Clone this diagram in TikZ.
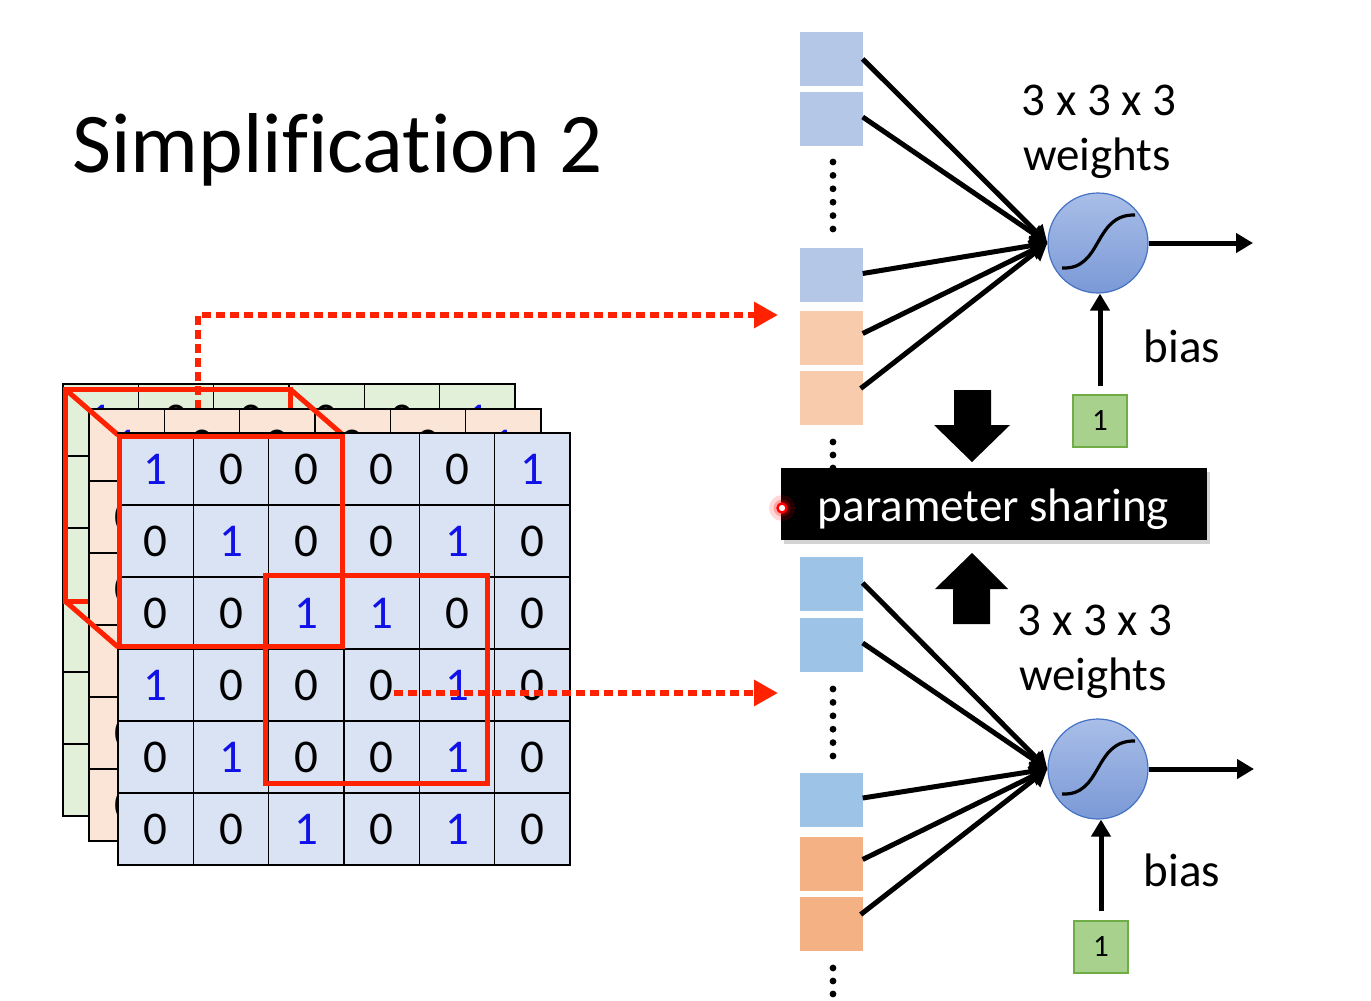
\documentclass[tikz,border=0pt]{standalone}
\usepackage{fontspec}
\setmainfont{Carlito}[Ligatures=NoCommon]
\usetikzlibrary{arrows.meta,calc,shadows}
\definecolor{cellblue}{HTML}{DAE3F3}
\definecolor{cellorange}{HTML}{FBE5D6}
\definecolor{cellgreen}{HTML}{E2F0D9}
\definecolor{redline}{HTML}{FF2200}
\definecolor{sqblueA}{HTML}{B4C7E7}
\definecolor{sqorangeA}{HTML}{F8CBAD}
\definecolor{sqblueB}{HTML}{9DC3E6}
\definecolor{sqorangeB}{HTML}{F4B183}
\definecolor{biasgreen}{HTML}{A9D18E}
\definecolor{biasborder}{HTML}{70AD47}
\definecolor{neuronborder}{HTML}{4472C4}
\definecolor{neurontop}{HTML}{A9BEE8}
\definecolor{neuronbot}{HTML}{7A99D6}
\definecolor{digitblue}{HTML}{1010E8}
\newcommand\mygridcells[4]{%
  \foreach \rowvals [count=\r] in {{1,0,0,0,0,1},{0,1,0,0,1,0},{0,0,1,1,0,0},{1,0,0,0,1,0},{0,1,0,0,1,0},{0,0,1,0,1,0}}{%
    \foreach \v [count=\c] in \rowvals {%
      \node[cell,fill=#3] (#4-\r-\c) at ({#1+(\c-0.5)*75.33},{#2+(\r-0.5)*72}) {\ifnum\v=1 \textcolor{digitblue}{1}\else 0\fi};
    }%
  }%
}
\begin{document}
\begin{tikzpicture}[x=1pt,y=-1pt,
  cell/.style={draw=black,line width=1.5pt,minimum width=75.33pt,minimum height=72pt,inner sep=0pt,font=\fontsize{47}{47}\selectfont},
  redbox/.style={draw=redline,line width=5pt},
  reddots/.style={draw=redline,line width=6pt,dash pattern=on 9pt off 5pt,-{Triangle[length=24pt,width=25pt]}},
  sq/.style={minimum width=63pt,minimum height=54pt,inner sep=0pt},
  conn/.style={draw=black,line width=5pt,-{Triangle[length=17pt,width=19pt]}},
  neuron/.style={circle,draw=neuronborder,line width=1.2pt,minimum size=100pt,inner sep=0pt,top color=neurontop,bottom color=neuronbot},
  biasbox/.style={draw=biasborder,line width=1.2pt,fill=biasgreen,minimum width=54pt,minimum height=52pt,inner sep=0pt,font=\fontsize{31}{31}\selectfont},
  lbl/.style={anchor=base,inner sep=0pt,font=\fontsize{47}{47}\selectfont},
  sig/.style={draw=black,line width=3.2pt},
  dotmark/.style={fill=black},
]
\useasboundingbox (0,0) rectangle (1371,1001);
% title
\node[anchor=base west,inner sep=0pt,font=\fontsize{85}{85}\selectfont] (title) at (72,172) {Simplification 2};

% back (green) grid
\mygridcells{63}{384}{cellgreen}{g}
% back face of the red cube
\draw[redbox] (65,389) rectangle (290,601);
% top dotted arrow
\coordinate (dstartA) at (198,409);
\coordinate (dendA) at (778,315);
\draw[reddots] (dstartA) |- (dendA);
% middle (orange) grid
\mygridcells{89}{409}{cellorange}{o}
% diagonals of the cube
\draw[redbox] (65,389) -- (118,435);
\draw[redbox] (290,389) -- (343,435);
\draw[redbox] (65,601) -- (118,647);
% front grid
\mygridcells{118}{433}{cellblue}{f}
% front face and second window
\draw[redbox] (119,436) rectangle (342,646);
\draw[redbox] (265,575) rectangle (487,783);
% bottom dotted arrow
\coordinate (dstartB) at (394,693);
\coordinate (dendB) at (778,693);
\draw[reddots] (dstartB) -- (dendB);

% ---------- top neuron ----------
\node[sq,fill=sqblueA] (t1) at (831,59) {};
\node[sq,fill=sqblueA] (t2) at (831,119) {};
\node[sq,fill=sqblueA] (t3) at (831,274.5) {};
\node[sq,fill=sqorangeA] (t4) at (831,337.5) {};
\node[sq,fill=sqorangeA] (t5) at (831,397.5) {};
\foreach \yy in {162,175.4,188.8,202.2,215.6,229} {\fill[dotmark] (833,\yy) circle (3.4);}
\foreach \yy in {442,455,468} {\fill[dotmark] (833,\yy) circle (3.4);}
\node[neuron] (n1) at (1098,243) {};
\draw[sig] ($(n1)+(-36,25)$) .. controls ($(n1)+(5,27)$) and ($(n1)+(-5,-29)$) .. ($(n1)+(37,-28)$);
\draw[conn] (t1.east) -- (n1.west);
\draw[conn] ($(t2.east)+(0,-2)$) -- (n1.west);
\draw[conn] ($(t3.east)+(0,-1)$) -- (n1.west);
\draw[conn] ($(t4.east)+(0,-4)$) -- (n1.west);
\draw[conn] ($(t5.east)+(-2,-9)$) -- (n1.west);
\coordinate (out1) at (1253,243);
\draw[conn] (n1.east) -- (out1);
\node[biasbox] (b1box) at (1100,421) {1};
\draw[conn,shorten <=8pt] (b1box.north) -- (b1box.north |- n1.south);
\node[lbl] (w1a) at (1099,115) {3 x 3 x 3};
\node[lbl] (w1b) at (1097,170) {weights};
\node[lbl] (bias1) at (1182,362) {bias};

% ---------- block arrows ----------
\fill[black] (954,390) -- (991,390) -- (991,425) -- (1010,425) -- (972,462) -- (934,425) -- (954,425) -- cycle;
\fill[black] (953,624) -- (990,624) -- (990,589) -- (1008,589) -- (972,553) -- (935,589) -- (953,589) -- cycle;

% ---------- parameter sharing ----------
\node[fill=black,minimum width=426pt,minimum height=72pt,inner sep=0pt,
      drop shadow={shadow xshift=3pt,shadow yshift=-4pt,opacity=0.35}] (ps) at (994,504) {};
\node[lbl,text=white] (pstext) at (993.5,521) {parameter sharing};
\fill[red,opacity=0.15] (782,508) circle (13);
\fill[red,opacity=0.25] (782,508) circle (8.5);
\node[circle,draw=red,line width=2.4pt,fill=white,minimum size=9pt,inner sep=0pt] (laser) at (782,508) {};

% ---------- bottom neuron ----------
\node[sq,fill=sqblueB] (s1) at (831,584) {};
\node[sq,fill=sqblueB] (s2) at (831,645) {};
\node[sq,fill=sqblueB] (s3) at (831,800) {};
\node[sq,fill=sqorangeB] (s4) at (831,863.5) {};
\node[sq,fill=sqorangeB] (s5) at (831,923.5) {};
\foreach \yy in {689,702.4,715.8,729.2,742.6,756} {\fill[dotmark] (833,\yy) circle (3.4);}
\foreach \yy in {968,981,994} {\fill[dotmark] (833,\yy) circle (3.4);}
\node[neuron] (n2) at (1098,769) {};
\draw[sig] ($(n2)+(-36,25)$) .. controls ($(n2)+(5,27)$) and ($(n2)+(-5,-29)$) .. ($(n2)+(37,-28)$);
\draw[conn] ($(s1.east)+(0,-1)$) -- (n2.west);
\draw[conn] ($(s2.east)+(0,-2)$) -- (n2.west);
\draw[conn] ($(s3.east)+(0,-2)$) -- (n2.west);
\draw[conn] ($(s4.east)+(0,-4)$) -- (n2.west);
\draw[conn] ($(s5.east)+(-2,-9)$) -- (n2.west);
\coordinate (out2) at (1254,769);
\draw[conn] (n2.east) -- (out2);
\node[biasbox] (b2box) at (1101,947) {1};
\draw[conn,shorten <=9pt] (b2box.north) -- (b2box.north |- n2.south);
\node[lbl] (w2a) at (1095,635) {3 x 3 x 3};
\node[lbl] (w2b) at (1093,690) {weights};
\node[lbl] (bias2) at (1182,886) {bias};
\end{tikzpicture}
\end{document}
